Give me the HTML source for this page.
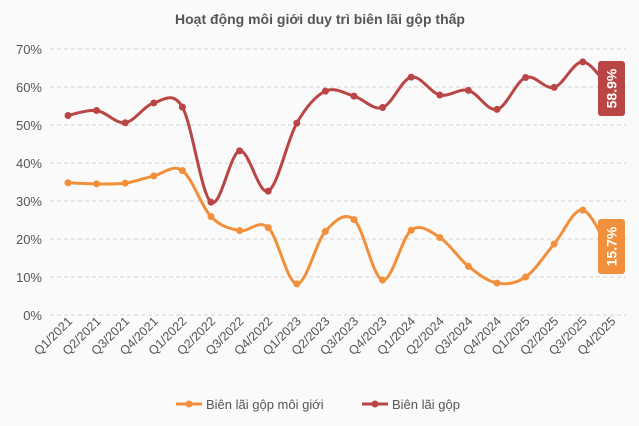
<!DOCTYPE html><html><head><meta charset="utf-8"><style>body{margin:0;background:#fafafa}svg{display:block;font-family:"Liberation Sans",sans-serif}</style></head><body>
<svg id="s" width="639" height="426" xmlns="http://www.w3.org/2000/svg">
<rect width="639" height="426" fill="#fafafa"/>
<text x="320" y="24" text-anchor="middle" font-size="14" font-weight="bold" fill="#555">Hoạt động môi giới duy trì biên lãi gộp thấp</text>
<g id="g"></g>
</svg>
<script>
var ns="http://www.w3.org/2000/svg",g=document.getElementById('g');
function el(t,a,txt){var e=document.createElementNS(ns,t);for(var k in a)e.setAttribute(k,a[k]);if(txt)e.textContent=txt;g.appendChild(e);return e;}
function Y(v){return 315-3.8*v}
for(var i=0;i<=7;i++){var y=Y(i*10);el('line',{x1:50,x2:626,y1:y,y2:y,stroke:'#d4d4d4','stroke-dasharray':'4,3'});el('text',{x:42,y:y+5,'text-anchor':'end','font-size':'13',fill:'#555'},i*10+'%');}
var labs=[],X=[];for(var yr=2021;yr<=2025;yr++)for(var q=1;q<=4;q++)labs.push('Q'+q+'/'+yr);
labs.forEach(function(l,i){var x=68+i*28.6;X.push(x);el('text',{x:x+5,y:322,'text-anchor':'end','font-size':'12.5',fill:'#555',transform:'rotate(-45 '+(x+5)+' 322)'},l);});
var red=[52.5,53.8,50.6,55.8,54.7,29.7,43.2,32.6,50.5,58.9,57.6,54.6,62.6,57.9,59.1,54.1,62.5,59.9,66.6,58.9];
var org=[34.8,34.5,34.7,36.6,38,25.9,22.2,23,8.2,22,25.1,9.2,22.3,20.4,12.8,8.4,10,18.7,27.6,15.7];
function path(d){var p=d.map(function(v,i){return[X[i],Y(v)]});var s='M'+p[0];for(var i=0;i<p.length-1;i++){var a=p[i-1]||p[i],b=p[i],c=p[i+1],e=p[i+2]||c;s+='C'+(b[0]+(c[0]-a[0])/6)+','+(b[1]+(c[1]-a[1])/6)+' '+(c[0]-(e[0]-b[0])/6)+','+(c[1]-(e[1]-b[1])/6)+' '+c;}return s;}
function series(d,c){el('path',{d:path(d),fill:'none',stroke:c,'stroke-width':3});d.forEach(function(v,i){if(i<19)el('circle',{cx:X[i],cy:Y(v),r:3.5,fill:c});});}
series(org,'#f28f3b');series(red,'#b94545');
function lab(y1,y2,c,t){el('rect',{x:598,y:y1,width:27,height:y2-y1,rx:3,fill:c});var cy=(y1+y2)/2;el('text',{x:611.5,y:cy+5,'text-anchor':'middle','font-size':'14','font-weight':'bold',fill:'#fff',transform:'rotate(-90 611.5 '+cy+')'},t);}
lab(61,116,'#b94545','58.9%');lab(219,274,'#f28f3b','15.7%');
el('line',{x1:176,x2:202,y1:404,y2:404,stroke:'#f28f3b','stroke-width':3});el('circle',{cx:189,cy:404,r:3.5,fill:'#f28f3b'});
el('text',{x:206,y:409,'font-size':'13',fill:'#555'},'Biên lãi gộp môi giới');
el('line',{x1:362,x2:388,y1:404,y2:404,stroke:'#b94545','stroke-width':3});el('circle',{cx:375,cy:404,r:3.5,fill:'#b94545'});
el('text',{x:392,y:409,'font-size':'13',fill:'#555'},'Biên lãi gộp');
</script></body></html>
